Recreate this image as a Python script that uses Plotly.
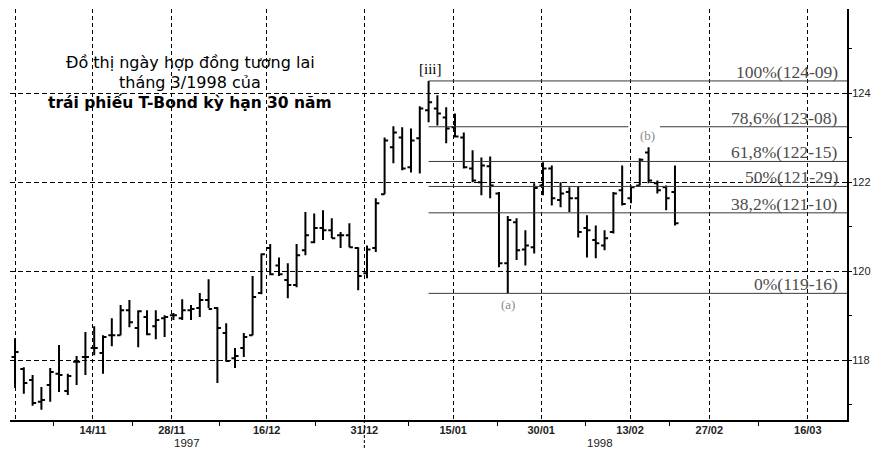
import plotly.graph_objects as go

# ---------------- data ----------------
opens = [118.07, 117.80, 117.55, 117.06, 117.44, 117.69, 117.30, 117.96, 118.07, 118.27,
         118.16, 118.56, 118.56, 119.12, 118.72, 118.97, 118.76, 118.94, 119.01, 118.94,
         119.12, 119.17, 119.35, 119.17, 118.61, 118.04, 118.27, 118.56, 119.51, 120.52,
         120.13, 119.80, 119.69, 120.47, 120.65, 120.97, 120.92, 120.81, 120.81, 120.52,
         119.95, 120.52, 121.73, 122.79, 123.01, 122.34, 122.99, 123.62, 123.66, 123.46,
         123.24, 123.01, 122.31, 122.00, 122.36, 121.75, 120.18, 121.10, 120.49, 120.54,
         121.93, 122.31, 121.60, 121.78, 121.64, 120.97, 120.70, 120.58, 120.88, 121.82,
         121.64, 121.93, 122.67, 121.98, 121.89, 121.78]
highs = [118.49, 117.84, 117.66, 117.39, 117.82, 118.34, 117.69, 118.09, 118.63, 118.76,
         118.56, 118.94, 119.24, 119.35, 119.12, 119.12, 119.12, 119.01, 119.06, 119.37,
         119.24, 119.51, 119.82, 119.19, 118.83, 118.27, 118.61, 119.89, 120.40, 120.61,
         120.31, 120.18, 120.61, 121.33, 121.30, 121.37, 121.19, 120.88, 121.08, 120.54,
         120.58, 121.64, 123.01, 123.26, 123.24, 123.21, 123.71, 124.28, 123.96, 123.69,
         123.55, 123.12, 122.72, 122.56, 122.58, 121.78, 121.24, 121.19, 120.92, 121.98,
         122.45, 122.38, 122.00, 121.89, 121.91, 121.26, 121.03, 120.92, 121.78, 122.38,
         121.93, 122.54, 122.79, 122.04, 121.93, 122.38]
lows = [117.37, 117.24, 116.97, 116.88, 117.06, 117.28, 117.21, 117.44, 117.66, 118.11,
        117.69, 118.31, 118.56, 118.74, 118.29, 118.56, 118.47, 118.52, 118.90, 118.90,
        118.90, 118.97, 119.17, 117.48, 117.96, 117.82, 118.07, 118.56, 119.48, 119.91,
        119.89, 119.39, 119.64, 120.36, 120.63, 120.70, 120.74, 120.52, 120.54, 119.57,
        119.84, 120.43, 121.73, 122.43, 122.27, 122.22, 122.20, 123.35, 123.28, 122.88,
        123.01, 122.31, 122.00, 121.71, 121.64, 120.09, 119.50, 120.25, 120.13, 120.40,
        121.71, 121.48, 121.44, 121.33, 120.76, 120.31, 120.29, 120.47, 120.85, 121.48,
        121.53, 121.93, 121.98, 121.75, 121.37, 121.03]
closes = [118.18, 117.48, 117.03, 117.10, 117.73, 117.66, 117.64, 117.96, 118.07, 118.27,
          118.52, 118.56, 119.12, 118.85, 119.10, 118.58, 118.90, 118.97, 119.01, 119.12,
          119.15, 119.35, 119.15, 118.72, 117.98, 118.09, 118.52, 119.42, 120.38, 119.93,
          119.93, 119.69, 120.36, 120.81, 120.97, 120.92, 120.74, 120.81, 120.54, 119.89,
          120.49, 121.53, 122.94, 123.12, 122.31, 122.94, 123.66, 123.80, 123.55, 123.21,
          123.03, 122.34, 122.04, 122.38, 121.93, 120.18, 121.15, 120.47, 120.58, 121.87,
          122.31, 121.64, 121.75, 121.64, 120.88, 120.92, 120.63, 120.74, 121.75, 121.51,
          121.89, 122.51, 122.04, 121.82, 121.64, 121.08]
bar_index = list(range(len(closes)))

x_tick_labels = ["", "14/11", "28/11", "16/12", "31/12", "15/01", "30/01", "13/02", "27/02", "16/03"]
x_tick_pos = [0, 8.85, 17.8, 28.6, 39.7, 49.8, 59.8, 69.9, 78.9, 90.1]
year_labels = ["1997", "1998"]
year_pos = [19.5, 66.5]

y_ticks = [118, 120, 122, 124]

fib_pcts = ["100%", "78,6%", "61,8%", "50%", "38,2%", "0%"]
fib_prices = ["124-09", "123-08", "122-15", "121-29", "121-10", "119-16"]

title_lines = ["Đồ thị ngày hợp đồng tương lai", "tháng 3/1998 của",
               "<b>trái phiếu T-Bond kỳ hạn 30 năm</b>"]
wave_labels = ["[iii]", "(a)", "(b)"]

# ---------------- derived ----------------
def price32(s):
    a, b = s.split("-")
    return int(a) + int(b) / 32.0

fib_values = [price32(p) for p in fib_prices]
peak_i = max(bar_index, key=lambda i: highs[i])
low_i = min(range(peak_i, len(lows)), key=lambda i: lows[i])
x_range = [-0.57, 94.55]
y_range = [116.65, 125.9]

fig = go.Figure()
fig.add_trace(go.Ohlc(
    x=bar_index, open=opens, high=highs, low=lows, close=closes,
    increasing=dict(line=dict(color="black", width=2)),
    decreasing=dict(line=dict(color="black", width=2)),
    tickwidth=0.4, showlegend=False, hoverinfo="skip",
))

shapes = []
annotations = []
FIB_COLOR = "#3a3a3a"
for k, (pct, pr, val) in enumerate(zip(fib_pcts, fib_prices, fib_values)):
    if pct == "78,6%":
        segs = [(peak_i, 69.7), (73.3, x_range[1])]
    else:
        segs = [(peak_i, x_range[1])]
    for a, b in segs:
        shapes.append(dict(type="line", xref="x", yref="y", x0=a, x1=b, y0=val, y1=val,
                           line=dict(color=FIB_COLOR, width=1), layer="above"))
    annotations.append(dict(x=93.75, y=val, xref="x", yref="y", xanchor="right",
                            yanchor="bottom", text=f"{pct}({pr})", showarrow=False,
                            yshift=-3,
                            font=dict(family="Liberation Serif", size=17.5, color="#4d4d4d")))

# separator under the axis at year change
shapes.append(dict(type="line", xref="x", yref="paper", x0=x_tick_pos[4], x1=x_tick_pos[4],
                   y0=0, y1=-0.075, line=dict(color="black", width=1, dash="3px,2px")))

# title block
title_sizes = [16, 16, 15.5]
for i, line in enumerate(title_lines):
    annotations.append(dict(x=19.9, y=124.70 - i * 0.45, xref="x", yref="y", text=line,
                            showarrow=False, xanchor="center", yanchor="middle",
                            font=dict(family="DejaVu Sans", size=title_sizes[i], color="black")))

# wave labels
annotations.append(dict(x=peak_i + 0.2, y=highs[peak_i], xref="x", yref="y", text=wave_labels[0],
                        showarrow=False, yanchor="bottom", yshift=2,
                        font=dict(family="Liberation Serif", size=15, color="black")))
annotations.append(dict(x=low_i, y=lows[low_i], xref="x", yref="y", text=wave_labels[1],
                        showarrow=False, yanchor="top", yshift=-2,
                        font=dict(family="Liberation Serif", size=13, color="#8a8a8a")))
b_i = max(range(low_i, len(highs)), key=lambda i: highs[i])
annotations.append(dict(x=b_i - 0.1, y=highs[b_i], xref="x", yref="y", text=wave_labels[2],
                        showarrow=False, yanchor="bottom", yshift=2,
                        font=dict(family="Liberation Serif", size=13, color="#8a8a8a")))

# year labels
for lab, xp in zip(year_labels, year_pos):
    annotations.append(dict(x=xp, y=-0.057, xref="x", yref="paper", text=lab, showarrow=False,
                            xanchor="center", yanchor="middle",
                            font=dict(family="Liberation Sans", size=11.5, color="#222222")))

minor_x = [(a + b) / 2 for a, b in zip(x_tick_pos[:-1], x_tick_pos[1:])]

fig.update_layout(
    width=871, height=450, autosize=False,
    margin=dict(l=10, r=24, t=9, b=30),
    paper_bgcolor="white", plot_bgcolor="white",
    shapes=shapes, annotations=annotations,
    showlegend=False,
    xaxis=dict(
        range=x_range, rangeslider=dict(visible=False),
        tickmode="array", tickvals=x_tick_pos, ticktext=x_tick_labels,
        showgrid=True, gridcolor="black", gridwidth=1, griddash="4px,3px",
        showline=True, linecolor="black", linewidth=2, ticks="",
        ticklabelstandoff=-1,
        tickfont=dict(family="Liberation Sans", size=11, color="#222222", weight="bold"),
        zeroline=False,
        minor=dict(tickmode="array", tickvals=minor_x, ticks="outside", ticklen=4,
                   tickcolor="black", tickwidth=1, showgrid=False),
    ),
    yaxis=dict(
        range=y_range, side="right", automargin=False,
        tickmode="array", tickvals=y_ticks, ticktext=[str(v) for v in y_ticks],
        showgrid=True, gridcolor="black", gridwidth=1, griddash="5px,3px",
        showline=True, linecolor="black", linewidth=2,
        ticks="outside", ticklen=3, tickcolor="black", tickwidth=1,
        ticklabelstandoff=-2,
        tickfont=dict(family="Liberation Sans", size=11, color="#222222"),
        zeroline=False,
        minor=dict(tickmode="array", tickvals=[117, 119, 121, 123, 125], ticks="outside",
                   ticklen=3, tickcolor="black", showgrid=False),
    ),
)

fig.write_html(
    "out.html",
    config={"displayModeBar": False},
    post_script="document.body.style.margin='0px';document.body.style.overflow='hidden';",
)
